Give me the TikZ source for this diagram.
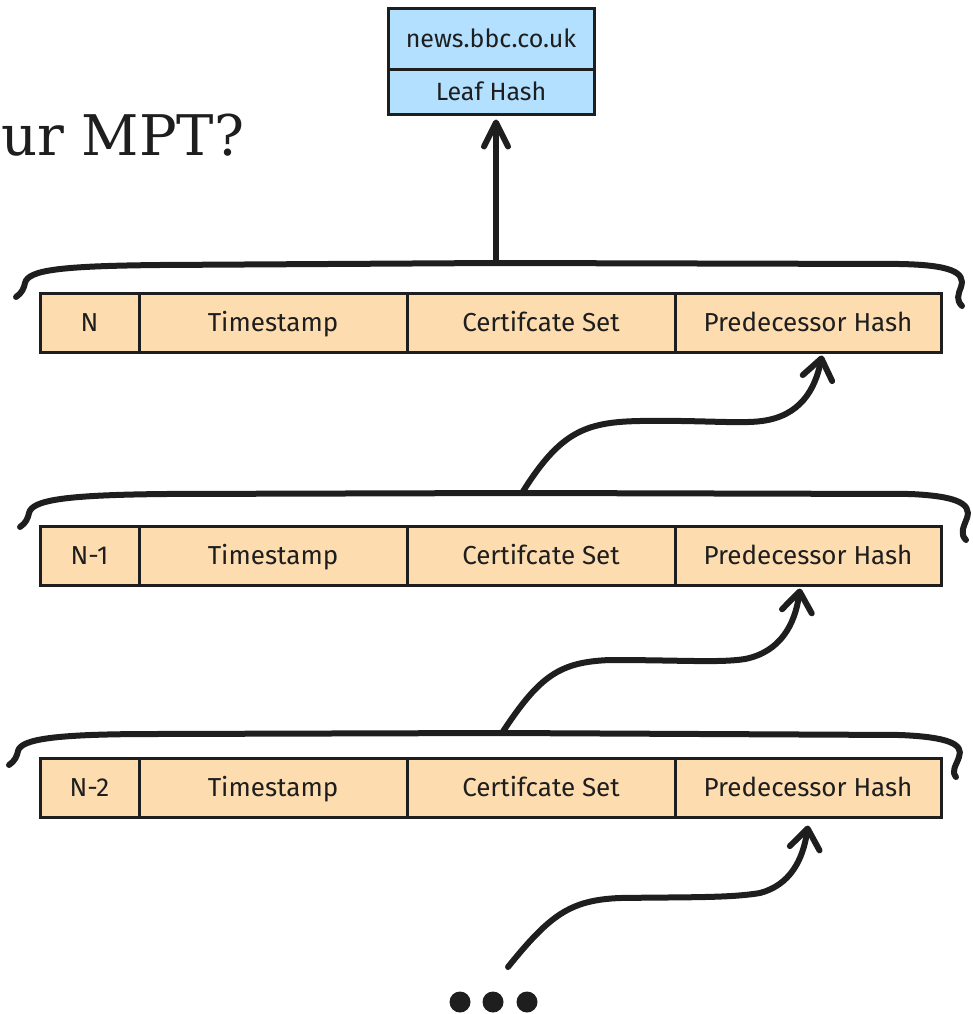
\documentclass[tikz,border=0pt]{standalone}
\usepackage{fontspec}
\setmainfont{Fira Sans}
\newfontfamily\slabfont{DejaVu Serif}
\usetikzlibrary{arrows.meta,calc}
\definecolor{ink}{HTML}{1E1E1E}
\definecolor{peach}{HTML}{FDDDB0}
\definecolor{sky}{HTML}{B3E0FF}
\begin{document}
\begin{tikzpicture}[x=1pt,y=-1pt,
  cell/.style={draw=ink,line width=3pt,fill=peach,inner sep=0pt,minimum height=59pt,
    font=\fontsize{26}{28}\selectfont,text=ink,text height=17pt,text depth=0pt},
  topcell/.style={draw=ink,line width=3pt,fill=sky,inner sep=0pt,minimum width=206pt,
    font=\fontsize{25}{28}\selectfont,text=ink,text height=16pt,text depth=0pt},
  brace/.style={draw=ink,line width=6pt,line cap=round,line join=round},
  link/.style={draw=ink,line width=6pt,line cap=round,line join=round,
    -{Straight Barb[length=20pt,width=30pt,round]}},
  dot/.style={circle,fill=ink,inner sep=0pt,minimum size=21pt}
]
\useasboundingbox (0,0) rectangle (973,1014);

% title fragment
\node[anchor=base west,inner sep=0pt,text=ink,font=\slabfont\fontsize{56}{60}\selectfont] (title) at (1,155) {ur MPT?};

% top record
\node[topcell,minimum height=61pt] (news) at (491,39.5) {news.bbc.co.uk};
\node[topcell,minimum height=45pt] (leaf) at (491,92.5) {Leaf Hash};

% block rows
\foreach \r/\yy/\lab in {1/322.5/N, 2/555.5/N-1, 3/787.5/N-2}{
  \node[cell,minimum width=99pt]  (n\r)  at (89.5,\yy) {\lab};
  \node[cell,minimum width=268pt] (ts\r) at (273,\yy) {Timestamp};
  \node[cell,minimum width=268pt] (cs\r) at (541,\yy) {Certifcate Set};
  \node[cell,minimum width=266pt] (ph\r) at (808,\yy) {Predecessor Hash};
}

% brackets over rows
\coordinate (b1) at (496,263);
\coordinate (b2) at (522,493);
\coordinate (b3) at (502,733);
\draw[brace] (16,297) .. controls (22,293) and (24,288) .. (25,283)
  .. controls (28,270) and (60,266) .. (160,265) -- (b1) -- (900,264)
  .. controls (950,265) and (966,272) .. (961,287)
  .. controls (958,295) and (956,300) .. (962,306);
\draw[brace] (20,527) .. controls (26,523) and (28,518) .. (29,513)
  .. controls (32,500) and (65,495) .. (165,494) -- (b2) -- (910,494)
  .. controls (955,496) and (972,503) .. (967,518)
  .. controls (963,528) and (960,534) .. (966,540);
\draw[brace] (9,765) .. controls (15,761) and (17,756) .. (18,751)
  .. controls (21,739) and (55,734) .. (155,734) -- (b3) -- (900,735)
  .. controls (948,737) and (964,744) .. (959,757)
  .. controls (956,766) and (951,771) .. (956,777);

% connectors
\draw[link,-{Straight Barb[length=24pt,width=24pt,round]}] (b1) -- ([shift={(5,3)}]leaf.south);
\draw[link] (b2) .. controls (560,432) and (585,422) .. (640,421)
  .. controls (700,420) and (740,424) .. (762,421)
  .. controls (800,416) and (815,390) .. ([shift={(14,2)}]ph1.south);
\draw[link] (b3) .. controls (540,675) and (560,662) .. (610,660)
  .. controls (680,660) and (720,663) .. (745,659)
  .. controls (780,652) and (795,625) .. ([shift={(-8,2)}]ph2.south);
\coordinate (s4) at (508,967);
\draw[link] (s4) .. controls (550,915) and (570,900) .. (620,898)
  .. controls (690,897) and (730,898) .. (760,893)
  .. controls (790,885) and (803,860) .. ([shift={(0,7)}]ph3.south);

% ellipsis
\node[dot] (d1) at (460,1002) {};
\node[dot] (d2) at (493,1002) {};
\node[dot] (d3) at (527,1002) {};
\end{tikzpicture}
\end{document}
